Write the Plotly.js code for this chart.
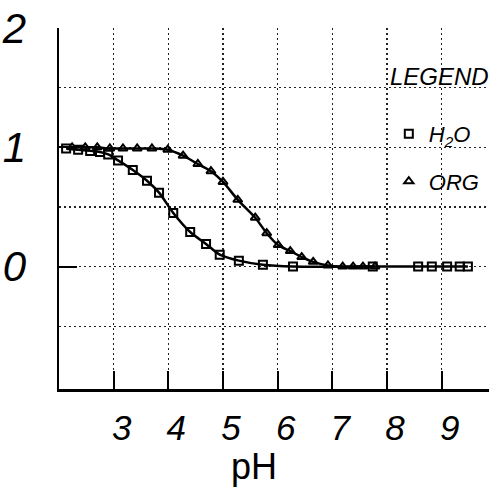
<!DOCTYPE html>
<html>
<head>
<meta charset="utf-8">
<script src="https://cdn.plot.ly/plotly-3.0.1.min.js"></script>
<style>html,body{margin:0;padding:0;background:#fff;}#chart{width:501px;height:491px;}</style>
</head>
<body>
<div id="chart"></div>
<script>
// Data
var h2oPH  = [2.13, 2.35, 2.57, 2.75, 2.90, 3.08, 3.35, 3.61, 3.83, 4.09, 4.40, 4.69, 4.94, 5.29, 5.73, 6.28, 7.74, 8.57, 8.82, 9.10, 9.33, 9.48];
var h2oVal = [0.99, 0.98, 0.97, 0.96, 0.94, 0.89, 0.81, 0.72, 0.62, 0.45, 0.29, 0.19, 0.10, 0.05, 0.015, 0.0, 0.0, 0.0, 0.0, 0.0, 0.0, 0.0];
var orgPH  = [2.24, 2.48, 2.70, 2.93, 3.17, 3.43, 3.70, 3.99, 4.27, 4.54, 4.78, 5.00, 5.27, 5.59, 5.80, 6.01, 6.23, 6.44, 6.65, 6.92, 7.19, 7.38, 7.56, 7.78];
var orgVal = [1.0, 1.0, 1.0, 0.99, 0.99, 0.99, 0.99, 0.98, 0.93, 0.86, 0.80, 0.71, 0.56, 0.41, 0.28, 0.18, 0.13, 0.08, 0.04, 0.01, 0.0, 0.0, 0.0, 0.0];
var xTicks = [3, 4, 5, 6, 7, 8, 9];
var xTickText = ['3', '4', '5', '6', '7', '8', '9'];
var yTicks = [0, 1, 2];
var yTickText = ['0', '1', '2'];
var yGrid = [-0.5, 0, 0.5, 1, 1.5];
var seriesNames = ['H<sub>2</sub>O', 'ORG'];
var legendTitle = 'LEGEND';
var xTitle = 'pH';

var handFont = '"Liberation Sans", Arial, sans-serif';

var traces = [
  {x: h2oPH, y: h2oVal, mode: 'lines', line: {color: '#000', width: 2.5, shape: 'spline', smoothing: 0.8}, showlegend: false, hoverinfo: 'skip'},
  {x: orgPH, y: orgVal, mode: 'lines', line: {color: '#000', width: 2.5, shape: 'spline', smoothing: 0.8}, showlegend: false, hoverinfo: 'skip'},
  {x: h2oPH, y: h2oVal, mode: 'markers', name: seriesNames[0], legendgroup: 'a',
   marker: {symbol: 'square-open', size: 8, color: '#000', line: {color: '#000', width: 2}}},
  {x: orgPH, y: orgVal, mode: 'markers', name: seriesNames[1], legendgroup: 'b',
   marker: {symbol: 'triangle-up-open', size: 8, color: '#000', line: {color: '#000', width: 2}}}
];

var layout = {
  width: 501, height: 491,
  margin: {l: 59, r: 12, t: 28, b: 102, pad: 0},
  paper_bgcolor: '#fff', plot_bgcolor: '#fff',
  font: {family: handFont, color: '#000'},
  showlegend: true,
  legend: {
    x: 0.767, y: 0.765, xanchor: 'left', yanchor: 'top',
    bgcolor: 'rgba(0,0,0,0)', borderwidth: 0,
    traceorder: 'grouped', tracegroupgap: 16,
    font: {size: 22, family: handFont, style: 'italic'}
  },
  xaxis: {
    range: [2, 9.866], fixedrange: true, automargin: false,
    tickmode: 'array', tickvals: xTicks, ticktext: xTickText,
    ticks: 'inside', ticklen: 18, tickwidth: 2, tickcolor: '#000',
    ticklabelshift: 8, ticklabelstandoff: 6,
    tickfont: {size: 35, family: handFont, style: 'italic', color: '#000'},
    showgrid: true, gridcolor: '#222', gridwidth: 1.5, griddash: '2px,3px',
    showline: true, linecolor: '#000', linewidth: 2.5, zeroline: false
  },
  yaxis: {
    range: [-1.026, 2], fixedrange: true, automargin: false,
    tickmode: 'array', tickvals: yTicks, ticktext: yTickText,
    ticks: 'inside', ticklen: 18, tickwidth: 2, tickcolor: '#000',
    ticklabelstandoff: 22,
    tickfont: {size: 42, family: handFont, style: 'italic', color: '#000'},
    showgrid: false,
    minor: {tickvals: yGrid, showgrid: true, gridcolor: '#222', gridwidth: 1.5, griddash: '2px,3px', ticks: ''},
    showline: true, linecolor: '#000', linewidth: 2.5, zeroline: false
  },
  annotations: [
    {text: legendTitle, xref: 'paper', yref: 'paper', x: 0.765, y: 0.867,
     xanchor: 'left', yanchor: 'middle', showarrow: false,
     font: {size: 24, family: handFont, style: 'italic', color: '#000'}},
    {text: xTitle, xref: 'paper', yref: 'paper', x: 0.453, y: 0,
     xanchor: 'center', yanchor: 'middle', yshift: -77, showarrow: false,
     font: {size: 36, family: handFont, color: '#000'}}
  ]
};

Plotly.newPlot('chart', traces, layout, {staticPlot: true, displayModeBar: false});
</script>
</body>
</html>
